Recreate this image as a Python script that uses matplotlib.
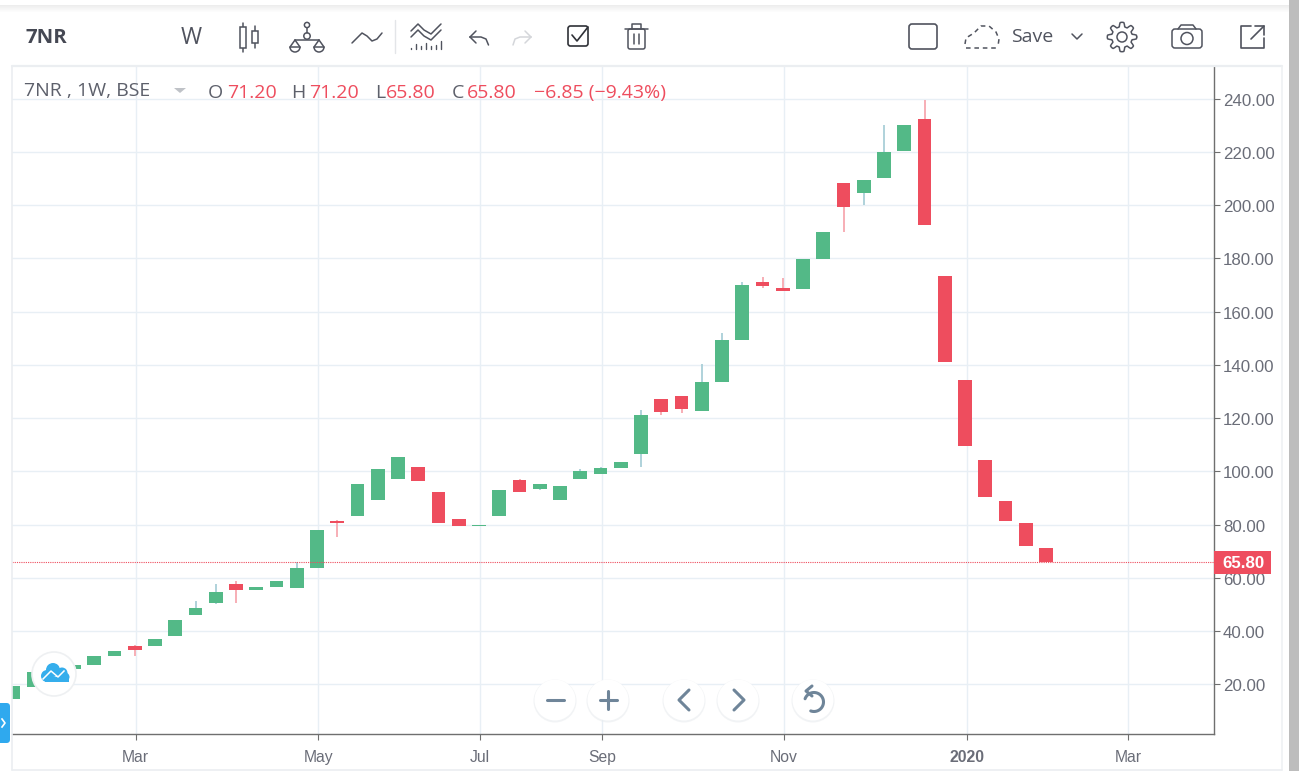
import numpy as np
import matplotlib
matplotlib.use("Agg")
import matplotlib.pyplot as plt
from matplotlib.patches import Circle, Rectangle, FancyBboxPatch, Arc, Polygon
from matplotlib.transforms import ScaledTranslation

opens = [14.5,19.0,24.5,25.8,27.4,30.8,34.2,34.2,38.0,45.9,50.4,57.5,55.6,56.7,56.1,63.5,81.5,83.2,89.4,97.3,
         101.8,92.3,82.2,79.3,83.2,96.8,93.3,89.4,97.3,98.9,101.3,106.4,127.3,128.4,122.8,133.4,149.2,171.3,169.0,168.4,
         179.7,208.5,204.5,210.1,220.3,232.2,173.5,134.2,104.1,88.7,80.4,71.2]
highs = [19.5,24.5,25.8,27.4,30.8,32.5,34.8,37.1,44.3,51.1,57.5,58.9,56.4,58.9,65.9,77.8,81.8,95.1,100.7,105.2,
         101.8,92.3,82.2,80.0,92.8,97.3,95.1,94.6,100.7,101.8,103.6,122.9,127.3,128.4,140.2,151.8,171.0,172.9,172.5,179.7,
         189.8,208.5,209.6,230.0,230.0,239.4,173.5,134.2,104.1,88.7,80.4,71.2]
lows = [14.5,19.0,24.5,25.8,27.4,30.8,30.8,34.2,38.0,45.9,50.1,50.4,55.6,56.7,56.1,63.5,75.3,83.2,89.4,97.3,
        96.2,80.4,79.3,79.3,83.2,92.2,92.8,89.4,97.3,98.9,101.3,101.8,121.0,122.1,122.8,133.4,149.2,168.8,167.7,168.4,
        179.7,189.8,199.9,210.1,220.3,192.6,140.9,109.4,90.2,81.5,72.1,65.8]
closes = [19.5,24.5,25.8,27.4,30.8,32.5,33.0,37.1,44.3,48.8,54.5,55.6,56.4,58.9,63.5,77.8,80.4,95.1,100.7,105.2,
          96.2,80.4,79.3,80.0,92.8,92.2,95.1,94.6,100.2,101.3,103.6,121.0,122.2,123.3,133.4,149.2,169.9,169.5,167.7,179.7,
          189.8,199.3,209.6,219.8,230.0,192.6,140.9,109.4,90.2,81.5,72.1,65.8]
y_ticks = [20,40,60,80,100,120,140,160,180,200,220,240]
x_tick_weeks = [6.04,15.07,23.06,29.09,38.04,47.08,55.07]
x_tick_labels = ["Mar","May","Jul","Sep","Nov","2020","Mar"]
last_price = 65.8

GREEN, RED = "#53B987", "#EE4D5E"
GREEN_W, RED_W = "#A9CFD8", "#F7A8B0"
GRID = "#E8EFF5"
ICON = "#50535E"
TXT = "#5D606B"
SANS = "Open Sans"
AXF = "Liberation Sans"

W, H = 1299, 771
fig = plt.figure(figsize=(W/100, H/100), dpi=100, facecolor="white")
L, R, T, B = 12, 1214, 66.5, 733.5
ax = fig.add_axes([L/W, 1-B/H, (R-L)/W, (B-T)/H])
ax.set_xlim(-0.0617, 59.296)
ax.set_ylim(1.5, 252.1)
ax.set_axisbelow(True)
ax.grid(True, color=GRID, lw=1.0)
for s in ("top", "left"):
    ax.spines[s].set_visible(False)
for s in ("right", "bottom"):
    ax.spines[s].set_color("#6F6F6F")
    ax.spines[s].set_linewidth(1.0)
ax.yaxis.tick_right()
ax.set_yticks(y_ticks)
ax.set_yticklabels([f"{v:.2f}" for v in y_ticks], fontfamily=AXF, fontsize=12.2, color="#6A6D78")
ax.set_xticks(x_tick_weeks)
ax.set_xticklabels(x_tick_labels, fontfamily=AXF, fontsize=11.3, color="#6A6D78")
ax.get_xticklabels()[5].set_fontweight("bold")
ax.tick_params(axis="y", length=4, width=0.8, color="#6F6F6F", pad=2.5)
ax.tick_params(axis="x", length=4, width=0.8, color="#6F6F6F", pad=8)
down1 = ScaledTranslation(0, -1/100, fig.dpi_scale_trans)
for lbl in ax.get_yticklabels():
    lbl.set_transform(lbl.get_transform() + down1)

xs = np.arange(len(opens))
o, h, l, c = map(np.array, (opens, highs, lows, closes))
up = c >= o
ax.vlines(xs, l, h, colors=[GREEN_W if u else RED_W for u in up], lw=1.3, zorder=2)
ax.bar(xs, np.abs(c-o), bottom=np.minimum(o, c), width=0.69,
       color=[GREEN if u else RED for u in up], lw=0, zorder=3)
ax.axhline(last_price, color=RED, lw=0.8, ls=(0, (1, 1)), zorder=4)

# page chrome, in pixel coordinates
ov = fig.add_axes([0, 0, 1, 1], facecolor="none")
ov.set_xlim(0, W); ov.set_ylim(H, 0); ov.axis("off")

def ln(xx, yy, col=ICON, lw=1.1, **k):
    ov.plot(xx, yy, color=col, lw=lw, solid_capstyle="round", **k)

def tx(x, y, s, col=TXT, size=12, fam=SANS, ha="left", **k):
    ov.text(x, y, s, color=col, fontsize=size, family=fam, ha=ha, va="center", **k)

# top shadow, frame, scrollbar
for i, a in enumerate(np.linspace(0.07, 0.0, 8)):
    ov.add_patch(Rectangle((0, 5+i), W, 1, fc="black", alpha=a, lw=0))
ov.add_patch(Rectangle((1289, 0), 10, H, fc="#BDBDBD", lw=0, zorder=6))
ln([12, 12], [66, 770], "#EBEEF1", 1.2)
ln([12, 1282], [66, 66], "#EBEEF1", 1.6)
ln([1282, 1282], [66, 770], "#EFF1F3", 1.2)
ln([12, 1282], [770, 770], "#EBEEF1", 1.2)

# price tag
ov.add_patch(Rectangle((1214, 551), 57, 23, fc=RED, lw=0, zorder=5))
ov.text(1243.5, 563, f"{last_price:.2f}", color="white", fontsize=12.2, family=AXF,
        fontweight="bold", ha="center", va="center", zorder=6)

# toolbar texts
tx(26, 38, "7NR", "#454853", 14.7, fontweight="bold")
tx(181, 38, "W", ICON, 16.5)
tx(1011, 37.5, "Save", ICON, 14)

# candles icon
ln([243, 243], [23, 52]); ln([255, 255], [26, 48])
ov.add_patch(Rectangle((240, 27), 6, 20.5, fc="white", ec=ICON, lw=1.1, zorder=3))
ov.add_patch(Rectangle((252, 31), 6, 12, fc="white", ec=ICON, lw=1.1, zorder=3))
# scales icon
ln([307, 307], [28, 33])
ln([295, 319], [40, 40]); ln([295, 290], [40, 47]); ln([295, 300], [40, 47]); ln([319, 314], [40, 47]); ln([319, 324], [40, 47])
ln([290, 300], [47, 47]); ln([314, 324], [47, 47])
ov.add_patch(Circle((307, 25), 2.6, fc="white", ec=ICON, lw=1.1))
ov.add_patch(Circle((307, 36), 3.2, fc="white", ec=ICON, lw=1.1))
ov.add_patch(Arc((295, 47), 10, 10, theta1=0, theta2=180, ec=ICON, lw=1.1))
ov.add_patch(Arc((319, 47), 10, 10, theta1=0, theta2=180, ec=ICON, lw=1.1))
# wave icon
ln([352, 358, 362, 367, 372, 377, 382], [43, 37, 33, 36, 41, 39, 33])
ln([395, 395], [20, 53], "#E3E5E8", 1.0)
# indicators icon
ln([411, 418, 424, 431, 441], [31, 24, 30, 34, 24])
ln([411, 418, 424, 431, 441], [37, 30, 36, 40, 30])
for bx, by in zip([411, 416, 421, 426, 431, 436, 441], [48, 44, 46, 43, 46, 45, 41]):
    ln([bx, bx], [49, by], lw=1.0)
# undo, redo
ln([470, 476], [37, 31]); ln([470, 476], [37, 43])
ln([470, 481, 486, 488.5], [37, 37, 39, 45])
ln([531, 525], [37, 31], "#D4D6DA"); ln([531, 525], [37, 43], "#D4D6DA")
ln([531, 520, 515, 513], [37, 37, 39, 45], "#D4D6DA")
# task box
ov.add_patch(FancyBboxPatch((568, 26), 20, 20, boxstyle="round,pad=0,rounding_size=2.5", fc="none", ec="#2F3137", lw=1.2))
ln([572, 577, 588], [35, 41, 27], "#2F3137", 1.2)
# trash
ln([625, 648], [29, 29]); ln([632, 632, 641, 641], [29, 24, 24, 29])
ov.add_patch(FancyBboxPatch((628, 29), 17, 20, boxstyle="round,pad=0,rounding_size=2", fc="none", ec=ICON, lw=1.1))
ln([634, 634], [34, 44]); ln([639, 639], [34, 44])
# square
ov.add_patch(FancyBboxPatch((909, 24), 28, 25, boxstyle="round,pad=0,rounding_size=3", fc="none", ec=ICON, lw=1.2))
# dashed cloud
ln([966, 998], [48, 48], ls=(0, (3, 2.5)))
ln([965, 966, 974, 981, 989, 996, 999, 998], [44, 38, 33, 26, 26, 32, 39, 46], ls=(0, (3, 2.5)))
# chevron
ln([1072, 1077, 1082], [34, 39, 34])
# gear
ang = np.linspace(0, 2*np.pi, 97)
rad = 12.5 + 2.2*np.tanh(3*np.cos(8*ang))
ln(1122+rad*np.cos(ang), 37+rad*np.sin(ang), lw=1.1)
ov.add_patch(Circle((1122, 37), 5, fc="none", ec=ICON, lw=1.1))
# camera
ov.add_patch(FancyBboxPatch((1172, 29), 30, 19, boxstyle="round,pad=0,rounding_size=3", fc="none", ec=ICON, lw=1.1))
ln([1178, 1181, 1193, 1196], [29, 25, 25, 29])
ov.add_patch(Circle((1187, 38.5), 6, fc="none", ec=ICON, lw=1.1))
# expand
ln([1251, 1241, 1241, 1264, 1264], [26, 26, 48, 48, 38], lw=1.2)
ln([1251, 1264], [39, 26], lw=1.2); ln([1255, 1264, 1264], [26, 26, 35], lw=1.2)

# legend
y = 93
tx(24, y-1.5, "7NR , 1W, BSE", TXT, 14)
ov.add_patch(Polygon([[174, 88], [186, 88], [180, 93]], fc="#BFC2C7", lw=0))
for x, s in ((208, "O"), (291, "H"), (375, "L"), (452, "C")):
    tx(x, y, s, TXT, 14)
for x, s in ((227, "71.20"), (309, "71.20"), (386, "65.80"), (467, "65.80"), (534, "\u22126.85 (\u22129.43%)")):
    tx(x, y, s, RED, 14)

# logo button
ov.add_patch(Circle((54, 674), 22, fc="white", ec="#EEF0F2", lw=1.2, zorder=7))
for cxx, cyy, r in ((47, 676, 6), (53, 670, 7), (62, 673, 5.5), (65, 677, 4.5)):
    ov.add_patch(Circle((cxx, cyy), r, fc="#35AEEC", lw=0, zorder=8))
ov.add_patch(Rectangle((45, 677), 24, 4.5, fc="#35AEEC", lw=0, zorder=8))
ov.plot([43, 51, 58, 64], [679, 671, 677, 671], color="white", lw=1.1, zorder=9)

# side tab
ov.add_patch(FancyBboxPatch((-6, 703), 16, 40, boxstyle="round,pad=0,rounding_size=3.5", fc="#2FA9EE", lw=0, zorder=8))
ov.plot([2, 5, 2], [719, 723, 727], color="white", lw=1.2, zorder=9)

# navigation buttons
NAV = "#6F8599"
for bx in (555, 608, 684, 738, 813):
    ov.add_patch(Circle((bx, 701), 21.5, fc="#E9ECEF", lw=0, alpha=0.6, zorder=7))
    ov.add_patch(Circle((bx, 700), 20.5, fc="white", lw=0, zorder=7))
kw = dict(color=NAV, lw=2.2, zorder=8, solid_capstyle="round")
ov.plot([547, 564], [700, 700], **kw)
ov.plot([600, 617], [700, 700], **kw)
ov.plot([608.5, 608.5], [691, 709], **kw)
ov.plot([689, 679, 689], [690, 700, 710], **kw)
ov.plot([734, 744, 734], [690, 700, 710], **kw)
t = np.radians(np.linspace(200, 470, 40))
ov.plot(814+9.5*np.cos(t), 702+9.5*np.sin(t), **kw)
ov.plot([812, 806, 812], [686, 691, 696], **kw)

fig.savefig("out.png", dpi=100, facecolor="white")
